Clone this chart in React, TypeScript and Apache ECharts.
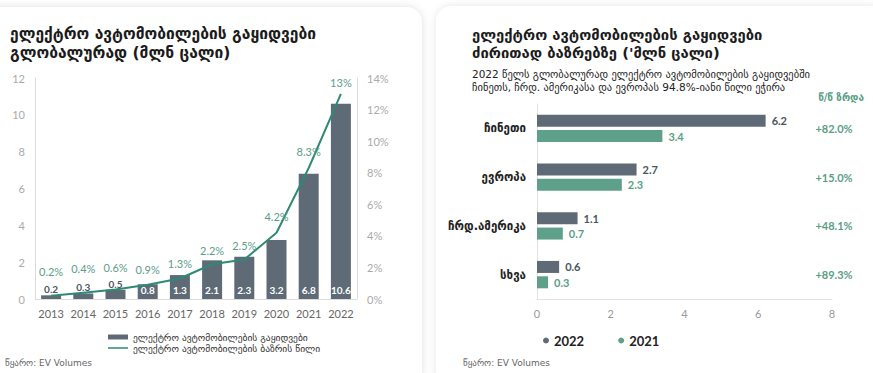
import React, { useEffect, useRef } from "react";
import * as echarts from "echarts";

const years = ["2013", "2014", "2015", "2016", "2017", "2018", "2019", "2020", "2021", "2022"];
const salesMln = [0.2, 0.3, 0.5, 0.8, 1.3, 2.1, 2.3, 3.2, 6.8, 10.6];
const marketShare = [0.2, 0.4, 0.6, 0.9, 1.3, 2.2, 2.5, 4.2, 8.3, 13];
const shareLabelText = ["0.2%", "0.4%", "0.6%", "0.9%", "1.3%", "2.2%", "2.5%", "4.2%", "8.3%", "13%"];

const regions = ["ჩინეთი", "ევროპა", "ჩრდ.ამერიკა", "სხვა"];
const sales2022 = [6.2, 2.7, 1.1, 0.6];
const sales2021 = [3.4, 2.3, 0.7, 0.3];
const growth = ["+82.0%", "+15.0%", "+48.1%", "+89.3%"];

const leftTitle = "ელექტრო ავტომობილების გაყიდვები\nგლობალურად (მლნ ცალი)";
const rightTitle = "ელექტრო ავტომობილების გაყიდვები\nძირითად ბაზრებზე ('მლნ ცალი)";
const rightSubtitle =
  "2022 წელს გლობალურად ელექტრო ავტომობილების გაყიდვებში\nჩინეთს, ჩრდ. ამერიკასა და ევროპას 94.8%-იანი წილი ეჭირა";
const growthHeader = "წ/წ ზრდა";
const sourceText = "წყარო: EV Volumes";
const salesName = "ელექტრო ავტომობილების გაყიდვები";
const shareName = "ელექტრო ავტომობილების ბაზრის წილი";

const SLATE = "#5e6b77";
const TEAL_LINE = "#2e8a72";
const TEAL = "#5fa08a";
const TEAL_TEXT = "#5a9e86";
const FONT = "Lato, 'DejaVu Sans', sans-serif";
const GEO = "'DejaVu Sans', sans-serif";

export default function App() {
  const ref = useRef<HTMLDivElement>(null);
  useEffect(() => {
    if (!ref.current) return;
    const chart = echarts.init(ref.current, null, { renderer: "svg" });
    const shareDist = [19, 19, 17, 10, 9, 8, 9, 11, 11, 6];
    const shareOffset = [0, 0, 0, 0, 0, 0, 0, -4, -7, 0];
    chart.setOption({
      animation: false,
      backgroundColor: "#ffffff",
      graphic: [
        {
          type: "rect",
          shape: { x: -20, y: 7, width: 442, height: 380, r: 16 },
          style: { fill: "#fff", shadowBlur: 8, shadowColor: "rgba(0,0,0,0.13)" },
          z: -10,
        },
        {
          type: "rect",
          shape: { x: 436, y: 6, width: 450, height: 380, r: 16 },
          style: { fill: "#fff", shadowBlur: 8, shadowColor: "rgba(0,0,0,0.10)" },
          z: -10,
        },
        {
          type: "text",
          x: 10,
          y: 24,
          style: { text: leftTitle, font: `bold 15.6px ${GEO}`, fill: "#1b1b1b", lineHeight: 19 },
        },
        {
          type: "text",
          x: 472,
          y: 25,
          style: { text: rightTitle, font: `bold 14.8px ${GEO}`, fill: "#1b1b1b", lineHeight: 18 },
        },
        {
          type: "text",
          x: 472,
          y: 68,
          style: { text: rightSubtitle, font: `10.5px ${GEO}`, fill: "#222", lineHeight: 12.5 },
        },
        {
          type: "text",
          x: 864,
          y: 92,
          style: { text: growthHeader, font: `bold 10px ${GEO}`, fill: TEAL_TEXT, align: "right" },
        },
        {
          type: "text",
          x: 5,
          y: 358,
          style: { text: sourceText, font: `9px ${GEO}`, fill: "#666" },
        },
        {
          type: "text",
          x: 463,
          y: 358,
          style: { text: sourceText, font: `9px ${GEO}`, fill: "#666" },
        },
      ],
      legend: [
        {
          left: 103,
          top: 327,
          data: [salesName],
          icon: "rect",
          itemWidth: 20,
          itemHeight: 5,
          itemGap: 2,
          textStyle: { fontSize: 9.5, color: "#333", fontFamily: GEO },
        },
        {
          left: 103,
          top: 338,
          data: [shareName],
          icon: "rect",
          itemWidth: 20,
          itemHeight: 1.5,
          textStyle: { fontSize: 9.5, color: "#333", fontFamily: GEO },
        },
        {
          left: 538,
          top: 329,
          data: ["2022", "2021"],
          icon: "circle",
          itemWidth: 6,
          itemHeight: 6,
          itemGap: 34,
          textStyle: { fontSize: 13, fontWeight: "bold", color: "#222", fontFamily: FONT },
        },
      ],
      grid: [
        { left: 35, top: 78, width: 322, height: 221 },
        { left: 537, top: 104, width: 295, height: 195 },
      ],
      xAxis: [
        {
          type: "category",
          gridIndex: 0,
          data: years,
          axisLine: { lineStyle: { color: "#dcdcdc" } },
          axisTick: { show: false },
          axisLabel: { color: "#666", fontSize: 11, margin: 9, interval: 0, fontFamily: FONT },
        },
        {
          type: "value",
          gridIndex: 1,
          min: 0,
          max: 8,
          interval: 2,
          axisLine: { show: true, lineStyle: { color: "#e2e2e2" } },
          axisTick: { show: false },
          splitLine: { show: false },
          axisLabel: { color: "#999", fontSize: 11, margin: 9, fontFamily: FONT },
        },
      ],
      yAxis: [
        {
          type: "value",
          gridIndex: 0,
          min: 0,
          max: 12,
          interval: 2,
          axisLine: { show: true, lineStyle: { color: "#dcdcdc" } },
          axisTick: { show: false },
          splitLine: { show: false },
          axisLabel: { color: "#aaa", fontSize: 11, margin: 10, fontFamily: FONT },
        },
        {
          type: "value",
          gridIndex: 0,
          position: "right",
          min: 0,
          max: 14,
          interval: 2,
          axisLine: { show: true, lineStyle: { color: "#dcdcdc" } },
          axisTick: { show: false },
          splitLine: { show: false },
          axisLabel: { color: "#aaa", fontSize: 11, margin: 10, formatter: "{value}%", fontFamily: FONT },
        },
        {
          type: "category",
          gridIndex: 1,
          inverse: true,
          data: regions,
          axisLine: { show: true, lineStyle: { color: "#e2e2e2" } },
          axisTick: { show: false },
          axisLabel: { color: "#222", fontSize: 11.5, fontWeight: "bold", margin: 11, fontFamily: GEO },
        },
        {
          type: "category",
          gridIndex: 1,
          inverse: true,
          position: "right",
          data: growth,
          axisLine: { show: false },
          axisTick: { show: false },
          axisLabel: {
            color: TEAL_TEXT,
            fontSize: 11,
            fontWeight: "bold",
            margin: 2,
            align: "center",
            padding: [0, 0, 8, 0],
            fontFamily: FONT,
          },
        },
      ],
      series: [
        {
          name: salesName,
          type: "bar",
          xAxisIndex: 0,
          yAxisIndex: 0,
          barWidth: 20,
          itemStyle: { color: SLATE },
          data: salesMln.map((v) =>
            v < 0.7
              ? {
                  value: v,
                  label: { show: true, position: "top", distance: 1, color: "#4a5560" },
                }
              : {
                  value: v,
                  label: { show: true, position: "insideBottom", distance: 4, color: "#fff" },
                }
          ),
          label: { fontSize: 10, fontWeight: "bold", fontFamily: FONT },
        },
        {
          name: shareName,
          type: "line",
          xAxisIndex: 0,
          yAxisIndex: 1,
          showSymbol: true,
          symbol: "circle",
          symbolSize: 0,
          itemStyle: { color: TEAL_LINE },
          lineStyle: { color: TEAL_LINE, width: 2 },
          labelLayout: { hideOverlap: false },
          data: marketShare.map((v, i) => ({
            value: v,
            label: {
              show: true,
              position: "top",
              distance: shareDist[i],
              offset: [shareOffset[i], 0],
              formatter: shareLabelText[i],
              color: TEAL_TEXT,
              fontSize: 11,
              fontFamily: FONT,
            },
          })),
        },
        {
          name: "2022",
          type: "bar",
          xAxisIndex: 1,
          yAxisIndex: 2,
          barWidth: 12,
          barGap: "28%",
          itemStyle: { color: SLATE },
          data: sales2022,
          label: {
            show: true,
            position: "right",
            distance: 6,
            color: "#4a5560",
            fontSize: 11,
            fontWeight: "bold",
            fontFamily: FONT,
          },
        },
        {
          name: "2021",
          type: "bar",
          xAxisIndex: 1,
          yAxisIndex: 2,
          barWidth: 12,
          barGap: "28%",
          itemStyle: { color: TEAL },
          data: sales2021,
          label: {
            show: true,
            position: "right",
            distance: 6,
            color: TEAL_TEXT,
            fontSize: 11,
            fontWeight: "bold",
            fontFamily: FONT,
          },
        },
      ],
    });
    return () => chart.dispose();
  }, []);
  return (
    <div
      ref={ref}
      style={{ position: "absolute", left: 0, top: 0, width: 873, height: 373 }}
    />
  );
}
